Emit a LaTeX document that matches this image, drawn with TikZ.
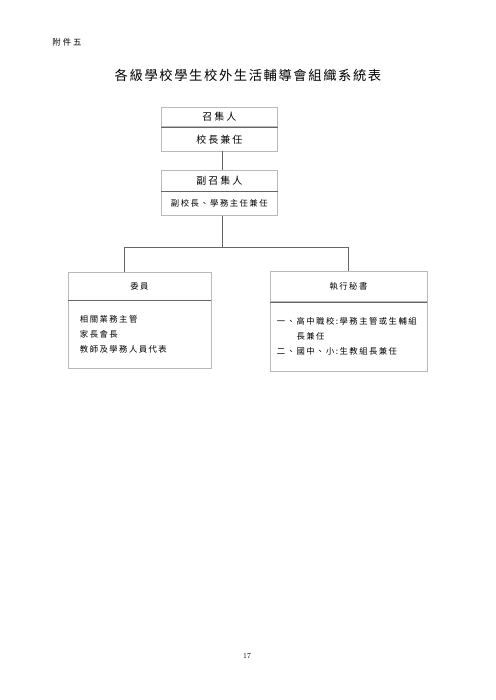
\documentclass[tikz,border=0pt]{standalone}
\usepackage{fontspec}
\usepackage{tikz}
\usetikzlibrary{positioning}
\newfontfamily\cjktitle[LetterSpace=12]{Noto Sans CJK TC}
\newfontfamily\cjkmid[LetterSpace=20]{Noto Sans CJK TC}
\newfontfamily\cjksmall[LetterSpace=18]{Noto Sans CJK TC}
\newfontfamily\cjkhdr[LetterSpace=25]{Noto Sans CJK TC}
\newcommand\pxu{1.2027pt}

\begin{document}
\begin{tikzpicture}[x=\pxu,y=-\pxu,node distance=0pt,
                    frame/.style={draw=gray!55,line width=0.6pt,inner sep=0pt},
                    big box/.style={frame,font=\cjkmid\fontsize{12pt}{14pt}\selectfont},
                    small box/.style={frame,font=\cjksmall\fontsize{10pt}{18pt}\selectfont},
                    divider/.style={draw=black!60,line width=0.6pt},
                    link/.style={draw=black!60,line width=0.6pt}]
\useasboundingbox (0,0) rectangle (495,700);

\node[font=\cjkhdr\fontsize{10pt}{12pt}\selectfont] (annex) at (67,42) {附件五};
\node[font=\cjktitle\fontsize{16pt}{18pt}\selectfont] (title) at (248,75) {各級學校學生校外生活輔導會組織系統表};

% convener and deputy
\node[big box,minimum width=116.5*\pxu,minimum height=19.2*\pxu] (conv) at (219.3,117.1) {召集人};
\node[big box,minimum width=116.5*\pxu,minimum height=24*\pxu,below=of conv] (convb) {校長兼任};
\node[big box,minimum width=116.5*\pxu,minimum height=20.7*\pxu] (dep) at (219.3,180.4) {副召集人};
\node[small box,minimum width=116.5*\pxu,minimum height=24.3*\pxu,below=of dep] (depb) {副校長、學務主任兼任};

% members and secretary
\node[small box,minimum width=143*\pxu,minimum height=28*\pxu] (memh) at (139.5,286) {委員};
\node[small box,minimum width=143*\pxu,minimum height=68*\pxu,below=of memh,
      text width=143.2pt,inner xsep=14.4pt,align=left] (memb)
      {相關業務主管\\家長會長\\教師及學務人員代表};
\node[small box,minimum width=157*\pxu,minimum height=30*\pxu] (sech) at (348.5,286.5) {執行秘書};
\node[small box,minimum width=157*\pxu,minimum height=69.5*\pxu,below=of sech,
      text width=172pt,inner xsep=8.4pt,align=left] (secb)
      {一、高中職校:學務主管或生輔組\\\hspace*{23.5pt}長兼任\\二、國中、小:生教組長兼任};

\draw[divider] (conv.south west) -- (conv.south east);
\draw[divider] (dep.south west) -- (dep.south east);
\draw[divider] (memh.south west) -- (memh.south east);
\draw[divider] (sech.south west) -- (sech.south east);

\coordinate (trunk) at (222,247);
\coordinate (lj) at (124,247);
\coordinate (rj) at (348,247);
\path[link]
(convb.south -| trunk) edge (dep.north -| trunk)
(depb.south -| trunk) edge (trunk)
(lj) edge (rj)
    edge (lj |- memh.north)
(rj) edge (rj |- sech.north);

\node[font=\fontsize{9pt}{10pt}\selectfont] (pageno) at (247,656) {17};
\end{tikzpicture}
\end{document}
